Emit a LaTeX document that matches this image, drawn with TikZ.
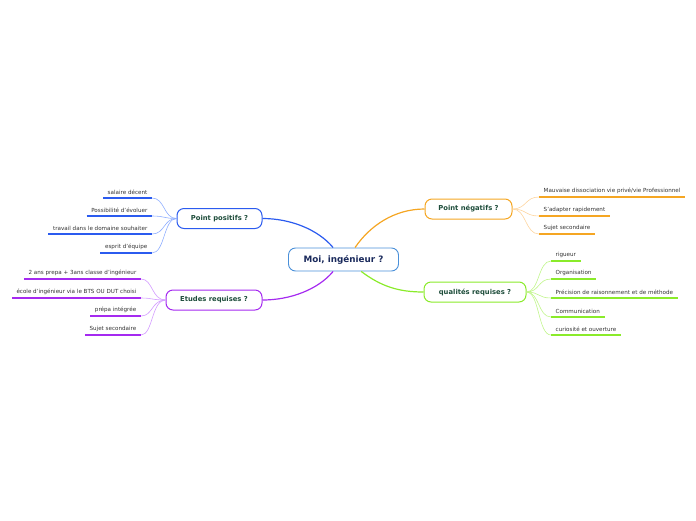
\documentclass[tikz,border=0pt]{standalone}
\usepackage{fontspec}
\setmainfont{DejaVu Sans}
\usetikzlibrary{arrows.meta, positioning}

\definecolor{rootline}{HTML}{4A90D9}
\definecolor{roottext}{HTML}{1A2A5C}
\definecolor{topictext}{HTML}{1E4D3B}
\definecolor{leaftext}{HTML}{333333}
\definecolor{bluebr}{HTML}{2B5BEF}
\definecolor{bluetwig}{HTML}{8FAEFF}
\definecolor{purplebr}{HTML}{A52AF0}
\definecolor{purpletwig}{HTML}{D39BFF}
\definecolor{orangebr}{HTML}{F5A623}
\definecolor{orangetwig}{HTML}{FDD5A0}
\definecolor{greenbr}{HTML}{8AEB2A}
\definecolor{greentwig}{HTML}{C0F58A}

\begin{document}
\begin{tikzpicture}[
    x=1pt, y=-1pt,
    root/.style={rectangle, rounded corners=7pt, draw=rootline, fill=white, line width=0.9pt, minimum width=110pt, minimum height=23pt, font=\fontsize{8.8}{10}\selectfont\bfseries, text=roottext},
    topic/.style={rectangle, rounded corners=7pt, fill=white, line width=1pt, minimum height=20pt, font=\fontsize{6.8}{8}\selectfont\bfseries, text=topictext},
    leaf/.style={font=\fontsize{5.6}{7}\selectfont, text=leaftext, inner xsep=4.5pt, inner ysep=3.2pt},
    branch/.style={line width=1.2pt},
    twig/.style={line width=0.6pt},
    underline/.style={line width=1.3pt}
]
\useasboundingbox (0,0) rectangle (696,520);

% Centre
\node[root] (moi) at (343.5,259.5) {Moi, ingénieur ?};

% Main topics
\node[topic, draw=bluebr, minimum width=85pt] (pos) at (219.5,218.5) {Point positifs ?};
\node[topic, draw=purplebr, minimum width=96pt] (etu) at (214,300) {Etudes requises ?};
\node[topic, draw=orangebr, minimum width=87pt] (neg) at (468.5,209) {Point négatifs ?};
\node[topic, draw=greenbr, minimum width=102pt] (qua) at (475,292) {qualités requises ?};

% Branches from the centre
\draw[branch, bluebr] (moi.131) .. controls +(-15,-18) and +(28,0) .. (pos.east);
\draw[branch, orangebr] (moi.46) .. controls +(15,-22) and +(-30,0) .. (neg.west);
\draw[branch, purplebr] (moi.229) .. controls +(-15,18) and +(28,0) .. (etu.east);
\draw[branch, greenbr] (moi.326) .. controls +(20,15) and +(-25,0) .. (qua.west);

% Point positifs leaves
\foreach \yy/\txt [count=\i] in {198/salaire décent, 216/Possibilité d'évoluer, 234/travail dans le domaine souhaiter, 253/esprit d'équipe} {
    \node[leaf, anchor=south east] (pos\i) at (152,\yy) {\txt};
    \draw[underline, bluebr] (pos\i.south west) -- (pos\i.south east);
    \draw[twig, bluetwig] (pos.west) .. controls +(-13,0) and +(13,0) .. (pos\i.south east);
}

% Etudes requises leaves
\foreach \yy/\txt [count=\i] in {279/2 ans prepa + 3ans classe d'ingénieur, 298/école d'ingénieur via le BTS OU DUT choisi, 316/prépa intégrée, 335/Sujet secondaire} {
    \node[leaf, anchor=south east] (etu\i) at (141,\yy) {\txt};
    \draw[underline, purplebr] (etu\i.south west) -- (etu\i.south east);
    \draw[twig, purpletwig] (etu.west) .. controls +(-14,0) and +(12,0) .. (etu\i.south east);
}

% Point negatifs leaves
\foreach \yy/\txt [count=\i] in {197/{Mauvaise dissociation vie privé/vie Professionnel}, 216/S'adapter rapidement, 234/Sujet secondaire} {
    \node[leaf, anchor=south west] (neg\i) at (539,\yy) {\txt};
    \draw[underline, orangebr] (neg\i.south west) -- (neg\i.south east);
    \draw[twig, orangetwig] (neg.east) .. controls +(14,0) and +(-14,0) .. (neg\i.south west);
}

% Qualites requises leaves
\foreach \yy/\txt [count=\i] in {261/rigueur, 279/Organisation, 298/Précision de raisonnement et de méthode, 317/Communication, 335/curiosité et ouverture} {
    \node[leaf, anchor=south west] (qua\i) at (551,\yy) {\txt};
    \draw[underline, greenbr] (qua\i.south west) -- (qua\i.south east);
    \draw[twig, greentwig] (qua.east) .. controls +(13,0) and +(-13,0) .. (qua\i.south west);
}

\end{tikzpicture}
\end{document}
